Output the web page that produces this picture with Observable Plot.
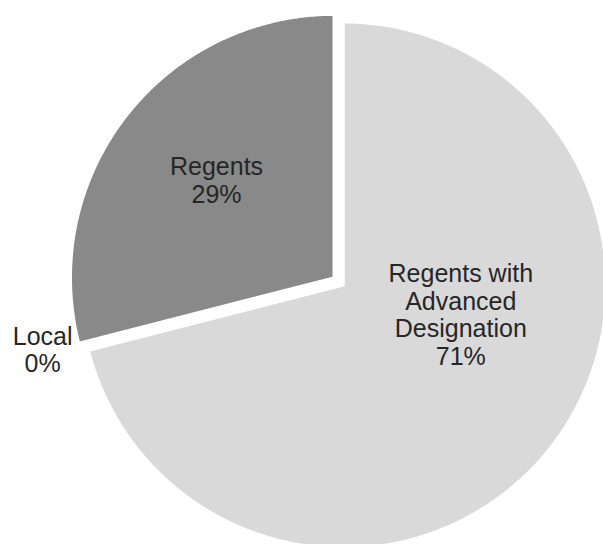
<!DOCTYPE html>
<html>
<head>
<meta charset="utf-8">
<script src="https://cdn.jsdelivr.net/npm/d3@7"></script>
<script src="https://cdn.jsdelivr.net/npm/@observablehq/plot@0.6"></script>
<style>
  html, body { margin: 0; padding: 0; background: #fff; }
  #chart { width: 603px; height: 544px; }
</style>
</head>
<body>
<div id="chart"></div>
<script>
// ---- data ----
const categories = ["Regents with Advanced Designation", "Local", "Regents"];
const labels = ["Regents with\nAdvanced\nDesignation", "Local", "Regents"];
const values = [71, 0, 29];
const colors = ["#d9d9d9", "#898989", "#898989"];

// ---- layout (not data) ----
const W = 603, H = 544;
const R = 263;            // pixel radius
const CX = 343, CY = 284.7; // pixel centre of the pie
const explode = [0, 0, 0.047];
const labelLayout = [
  {radius: 0.46, angle: 104.2},
  {radius: 1.17, nudge: 2.3},
  {radius: 0.58, nudge: 2.0}
];

const table = categories.map((c, i) => ({name: c, label: labels[i], value: values[i], color: colors[i], i}));
const total = d3.sum(values);
const arcs = d3.pie().sort(null).value(d => d.value)(table);

const points = [];
const textRows = [];
arcs.forEach(a => {
  const d = a.data;
  const mid = (a.startAngle + a.endAngle) / 2;
  const ox = explode[d.i] * Math.sin(mid);
  const oy = explode[d.i] * Math.cos(mid);
  if (d.value > 0) {
    points.push({name: d.name, x: ox, y: oy});
    const steps = Math.max(2, Math.ceil((a.endAngle - a.startAngle) / (Math.PI / 360)));
    for (let k = 0; k <= steps; k++) {
      const t = a.startAngle + (a.endAngle - a.startAngle) * k / steps;
      points.push({name: d.name, x: ox + Math.sin(t), y: oy + Math.cos(t)});
    }
    points.push({name: d.name, x: ox, y: oy});
  }
  const L = labelLayout[d.i];
  const ang = L.angle != null ? L.angle * Math.PI / 180 : mid + (L.nudge || 0) * Math.PI / 180;
  textRows.push({
    name: d.name,
    x: ox + L.radius * Math.sin(ang),
    y: oy + L.radius * Math.cos(ang),
    text: d.label + "\n" + Math.round(d.value / total * 100) + "%"
  });
});

const chart = Plot.plot({
  width: W,
  height: H,
  margin: 0,
  x: {domain: [-CX / R, (W - CX) / R], range: [0, W], axis: null},
  y: {domain: [-(H - CY) / R, CY / R], range: [H, 0], axis: null},
  color: {domain: categories, range: colors},
  style: {background: "#fff"},
  marks: [
    Plot.line(points, {x: "x", y: "y", z: "name", fill: "name", stroke: "#fff", strokeWidth: 2.5, strokeLinejoin: "miter", curve: "linear"}),
    Plot.text(textRows, {x: "x", y: "y", text: "text", fontSize: 25, lineHeight: 1.1, fill: "#262626",
      fontFamily: "Liberation Sans, Arial, sans-serif", textAnchor: "middle", lineAnchor: "middle"})
  ]
});
document.getElementById("chart").appendChild(chart);
</script>
</body>
</html>
